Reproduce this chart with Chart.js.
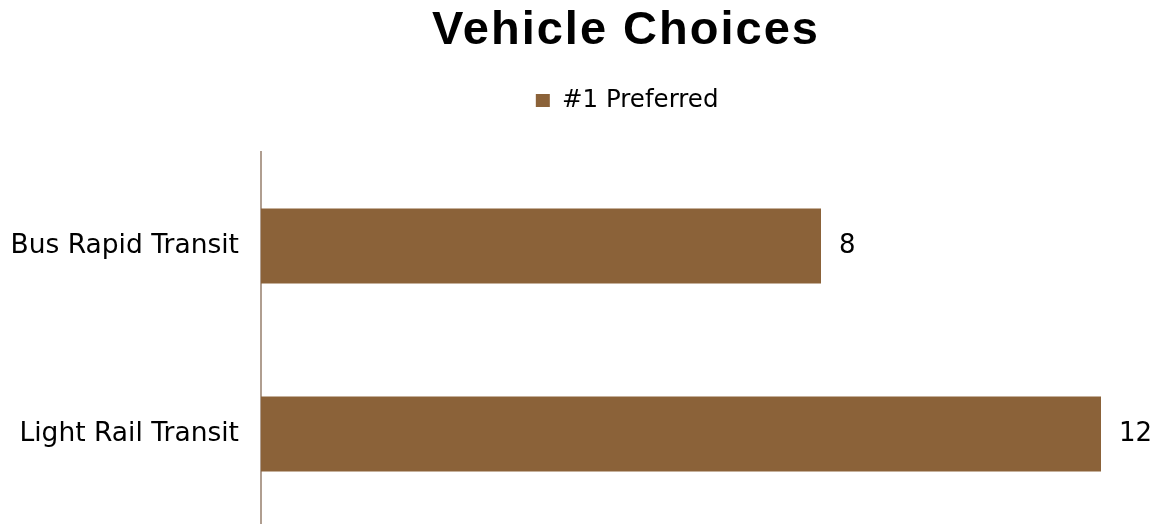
<!DOCTYPE html>
<html>
<head>
<meta charset="utf-8">
<script src="https://cdn.jsdelivr.net/npm/chart.js@4"></script>
<style>
html,body{margin:0;padding:0;background:#fff;overflow:hidden;height:524px;}
#wrap{position:relative;width:1154px;height:528px;}
</style>
</head>
<body>
<div id="wrap"><canvas id="c"></canvas></div>
<script>
const categories = ["Bus Rapid Transit", "Light Rail Transit"];
const preferred = [8, 12];
const seriesName = "#1 Preferred";
const chartTitle = "Vehicle Choices";

const barColor = "#8B6239";
const axisColor = "#B09E90";
const labelFont = "'DejaVu Sans', Verdana, sans-serif";

const valueLabels = {
  id: 'valueLabels',
  afterDatasetsDraw(chart) {
    const ctx = chart.ctx;
    const meta = chart.getDatasetMeta(0);
    ctx.save();
    ctx.font = "26px " + labelFont;
    ctx.fillStyle = "#000";
    ctx.textAlign = "left";
    ctx.textBaseline = "middle";
    meta.data.forEach((bar, i) => {
      ctx.fillText(String(chart.data.datasets[0].data[i]), bar.x + 18, bar.y);
    });
    ctx.restore();
  }
};

const headerLayout = {
  id: 'headerLayout',
  beforeInit(chart) {
    const lg = chart.legend;
    const origFit = lg.fit;
    lg.fit = function () {
      origFit.call(lg);
      lg.height += 29.25;
    };
    const tb = chart.titleBlock;
    const origDraw = tb.draw;
    tb.draw = function (area) {
      chart.ctx.save();
      chart.ctx.letterSpacing = '2px';
      origDraw.call(tb, area);
      chart.ctx.restore();
    };
  },
  afterLayout(chart) {
    const tb = chart.titleBlock;
    tb.left = 98; tb.right = 1154;
    const lg = chart.legend;
    lg.left = 100; lg.right = 1154.25;
  }
};

new Chart(document.getElementById('c'), {
  type: 'bar',
  data: {
    labels: categories,
    datasets: [{
      label: seriesName,
      data: preferred,
      backgroundColor: barColor,
      borderWidth: 0,
      categoryPercentage: 0.8,
      barPercentage: 0.5
    }]
  },
  options: {
    indexAxis: 'y',
    responsive: true,
    maintainAspectRatio: false,
    animation: false,
    layout: { padding: { top: 0, right: 53, bottom: 0, left: 0 } },
    plugins: {
      title: {
        display: true,
        text: chartTitle,
        color: '#000',
        font: { family: "'Liberation Sans', Arial, sans-serif", size: 47, weight: 'bold' },
        padding: { top: 2.5, bottom: 19.35 }
      },
      legend: {
        display: true,
        position: 'top',
        labels: {
          color: '#000',
          font: { family: labelFont, size: 24.5 },
          boxWidth: 14,
          boxHeight: 13,
          padding: 10
        }
      },
      tooltip: { enabled: false }
    },
    scales: {
      x: {
        display: false,
        min: 0,
        max: 12
      },
      y: {
        grid: { display: true, drawOnChartArea: false, drawTicks: false },
        border: { display: true, color: axisColor, width: 2 },
        ticks: {
          color: '#000',
          font: { family: labelFont, size: 26.5 },
          padding: 22
        },
        afterFit(axis) {
          axis.width = 261;
          axis.paddingTop = 0;
          axis.paddingBottom = 0;
        }
      }
    }
  },
  plugins: [valueLabels, headerLayout]
});
</script>
</body>
</html>
